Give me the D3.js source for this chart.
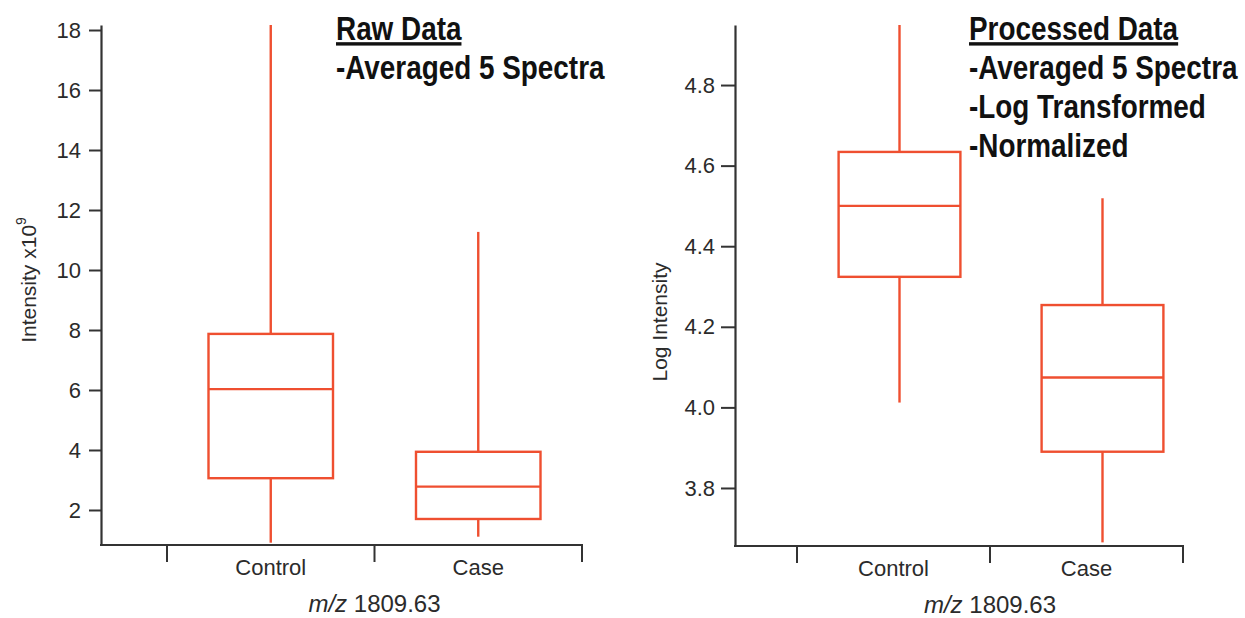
<!DOCTYPE html>
<html>
<head>
<meta charset="utf-8">
<script src="https://cdn.jsdelivr.net/npm/d3@7"></script>
<style>
  body { margin: 0; background: #fff; }
  text { font-family: "Liberation Sans", Arial, sans-serif; fill: #2b2b2b; }
  .title { font-family: "Liberation Sans", Arial, sans-serif; font-weight: bold; font-size: 34px; fill: #111; }
</style>
</head>
<body>
<div id="chart"></div>
<script>
// groups and box statistics
var groups = ["Control", "Case"];

// raw data (intensity x10^9)
var rawLow    = [0.91, 1.11];
var rawQ1     = [3.06, 1.70];
var rawMedian = [6.03, 2.78];
var rawQ3     = [7.87, 3.94];
var rawHigh   = [18.17, 11.27];
var rawTicks  = [2, 4, 6, 8, 10, 12, 14, 16, 18];

// processed data (log intensity)
var logLow    = [4.012, 3.665];
var logQ1     = [4.324, 3.890];
var logMedian = [4.500, 4.074];
var logQ3     = [4.634, 4.254];
var logHigh   = [4.949, 4.519];
var logTicks  = [3.8, 4.0, 4.2, 4.4, 4.6, 4.8];

var rawTitle = ["Raw Data", "-Averaged 5 Spectra"];
var logTitle = ["Processed Data", "-Averaged 5 Spectra", "-Log Transformed", "-Normalized"];

var boxColor = "#ef4f30";
var axisColor = "#333";

var svg = d3.select("#chart")
  .append("svg")
    .attr("width", 1245)
    .attr("height", 618);

function makeRows(low, q1, med, q3, high) {
  return groups.map(function(g, i) {
    return {group: g, low: low[i], q1: q1[i], median: med[i], q3: q3[i], high: high[i]};
  });
}

function drawPanel(opt) {
  var g = svg.append("g");

  var y = d3.scaleLinear().domain(opt.yDomain).range([opt.bottom, opt.top]);
  var x = d3.scaleBand().domain(groups).range(opt.xRange);
  var xb = d3.scaleBand().domain(groups).range(opt.boxRange);

  // y axis
  var yAxis = g.append("g")
    .attr("transform", "translate(" + opt.left + ",0)")
    .call(d3.axisLeft(y).tickValues(opt.ticks).tickSize(opt.tickLen).tickPadding(opt.tickPad)
      .tickFormat(opt.fmt).tickSizeOuter(0));
  yAxis.selectAll("line").attr("stroke", axisColor).attr("stroke-width", 2);
  yAxis.select(".domain").attr("stroke", axisColor).attr("stroke-width", 2.2);
  yAxis.selectAll("text").style("font-size", opt.tickFont + "px").attr("fill", "#2b2b2b");

  // x axis line
  g.append("line")
    .attr("x1", opt.left - 1).attr("x2", opt.xRange[1] + 1)
    .attr("y1", opt.bottom).attr("y2", opt.bottom)
    .attr("stroke", axisColor).attr("stroke-width", 2.2);

  // boundary ticks between categories
  var bounds = groups.map(function(d) { return x(d); }).concat([x(groups[groups.length - 1]) + x.bandwidth()]);
  g.selectAll(".btick").data(bounds).enter().append("line")
    .attr("x1", function(d) { return d; }).attr("x2", function(d) { return d; })
    .attr("y1", opt.bottom).attr("y2", opt.bottom + 17)
    .attr("stroke", axisColor).attr("stroke-width", 2);

  // category labels
  g.selectAll(".cat").data(groups).enter().append("text")
    .attr("x", function(d) { return x(d) + x.bandwidth() / 2; })
    .attr("y", opt.bottom + 30)
    .attr("text-anchor", "middle")
    .style("font-size", "22px")
    .text(function(d) { return d; });

  // x title
  var xt = g.append("text")
    .attr("x", (x.range()[0] + x.range()[1]) / 2)
    .attr("y", opt.bottom + 67)
    .attr("text-anchor", "middle")
    .style("font-size", "24px");
  xt.append("tspan").style("font-style", "italic").text("m/z");
  xt.append("tspan").text(" 1809.63");

  // y title
  var yt = g.append("text")
    .attr("transform", "translate(" + opt.yLabelX + "," + opt.yLabelY + ") rotate(-90)")
    .attr("text-anchor", "middle")
    .style("font-size", opt.yLabelFont + "px");
  yt.append("tspan").text(opt.yLabel);
  if (opt.yLabelSup) {
    yt.append("tspan").attr("dy", -10).style("font-size", "14px").text(opt.yLabelSup);
  }

  // boxes
  var rows = opt.rows;
  var bw = xb.bandwidth() * 0.6;
  var cx = function(d) { return xb(d.group) + xb.bandwidth() / 2; };
  var boxes = g.selectAll(".box").data(rows).enter().append("g");

  boxes.append("line")
    .attr("x1", cx).attr("x2", cx)
    .attr("y1", function(d) { return y(d.high); })
    .attr("y2", function(d) { return y(d.q3); })
    .attr("stroke", boxColor).attr("stroke-width", 2.4);
  boxes.append("line")
    .attr("x1", cx).attr("x2", cx)
    .attr("y1", function(d) { return y(d.q1); })
    .attr("y2", function(d) { return y(d.low); })
    .attr("stroke", boxColor).attr("stroke-width", 2.4);
  boxes.append("rect")
    .attr("x", function(d) { return cx(d) - bw / 2; })
    .attr("width", bw)
    .attr("y", function(d) { return y(d.q3); })
    .attr("height", function(d) { return y(d.q1) - y(d.q3); })
    .attr("fill", "none")
    .attr("stroke", boxColor).attr("stroke-width", 2.4);
  boxes.append("line")
    .attr("x1", function(d) { return cx(d) - bw / 2; })
    .attr("x2", function(d) { return cx(d) + bw / 2; })
    .attr("y1", function(d) { return y(d.median); })
    .attr("y2", function(d) { return y(d.median); })
    .attr("stroke", boxColor).attr("stroke-width", 2.4);

  // title block (condensed bold look)
  g.selectAll(".title").data(opt.title).enter().append("text")
    .attr("class", "title")
    .attr("transform", function(d, i) { return "translate(" + opt.titleX + "," + (40 + i * 39) + ") scale(0.82,1)"; })
    .style("text-decoration", function(d, i) { return i === 0 ? "underline" : null; })
    .text(function(d) { return d; });
}

drawPanel({
  rows: makeRows(rawLow, rawQ1, rawMedian, rawQ3, rawHigh),
  yDomain: [0.833, 18.167], top: 25, bottom: 545, left: 101,
  xRange: [167, 582], boxRange: [167, 582],
  ticks: rawTicks, fmt: d3.format("d"), tickLen: 12, tickPad: 8, tickFont: 22,
  yLabel: "Intensity x10", yLabelSup: "9", yLabelX: 36, yLabelY: 280, yLabelFont: 21,
  title: rawTitle, titleX: 336
});

drawPanel({
  rows: makeRows(logLow, logQ1, logMedian, logQ3, logHigh),
  yDomain: [3.656, 4.949], top: 25, bottom: 546, left: 735,
  xRange: [797, 1183], boxRange: [798, 1204],
  ticks: logTicks, fmt: d3.format(".1f"), tickLen: 14, tickPad: 6, tickFont: 22,
  yLabel: "Log Intensity", yLabelX: 667, yLabelY: 322, yLabelFont: 21,
  title: logTitle, titleX: 969
});
</script>
</body>
</html>
